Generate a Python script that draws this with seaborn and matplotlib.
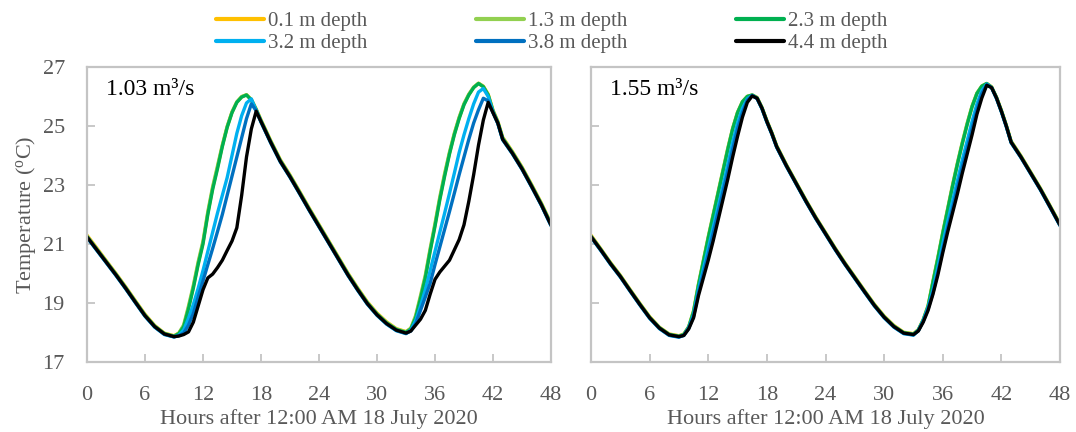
import numpy as np
import pandas as pd
import matplotlib
matplotlib.use("Agg")
import matplotlib.pyplot as plt
from matplotlib.lines import Line2D
import seaborn as sns

# ---- data -------------------------------------------------------------
hours = [0, 1, 2, 3, 4, 5, 6, 7, 8,
         9, 9.5, 10, 10.5, 11, 11.5, 12, 12.5, 13, 13.5, 14, 14.5, 15, 15.5,
         16, 16.5, 17, 17.5, 18, 18.5, 19,
         20, 21, 22, 23, 24, 25, 26, 27, 28, 29, 30, 31, 32,
         33, 33.5, 34, 34.5, 35, 35.5, 36, 36.5, 37, 37.5, 38, 38.5, 39, 39.5,
         40, 40.5, 41, 41.5, 42, 42.5, 43,
         44, 45, 46, 47, 48]

depths = ["0.1 m depth", "1.3 m depth", "2.3 m depth",
          "3.2 m depth", "3.8 m depth", "4.4 m depth"]
colors = ["#FFC000", "#92D050", "#00B050", "#00B0F0", "#0070C0", "#000000"]

flows = ["1.03 m\u00b3/s", "1.55 m\u00b3/s"]

# discharge 1.03 m3/s
q103_d01 = [21.30, 20.87, 20.43, 20.00, 19.55, 19.08, 18.62, 18.24, 17.98,
            17.89, 17.98, 18.22, 18.85, 19.55, 20.35, 21.05, 22.05, 22.90, 23.60, 24.33, 24.97,
            25.47, 25.81, 25.99, 26.06, 25.90, 25.58, 25.21, 24.86, 24.51,
            23.86, 23.34, 22.78, 22.21, 21.66, 21.11, 20.56, 20.01, 19.51, 19.04, 18.66, 18.36, 18.13,
            18.03, 18.14, 18.54, 19.20, 19.90, 20.80, 21.65, 22.55, 23.35, 24.08, 24.73, 25.28,
            25.74, 26.07, 26.31, 26.45, 26.35, 26.08, 25.54, 25.16, 24.62,
            24.14, 23.61, 23.01, 22.39, 21.70]
q103_d13 = [21.27, 20.84, 20.41, 19.98, 19.53, 19.06, 18.60, 18.22, 17.97,
            17.88, 17.98, 18.26, 18.90, 19.60, 20.40, 21.10, 22.10, 22.95, 23.65, 24.36, 24.99,
            25.48, 25.82, 26.00, 26.06, 25.89, 25.56, 25.19, 24.84, 24.49,
            23.84, 23.32, 22.76, 22.19, 21.64, 21.09, 20.54, 19.99, 19.49, 19.02, 18.64, 18.34, 18.12,
            18.02, 18.15, 18.58, 19.25, 19.95, 20.85, 21.70, 22.60, 23.40, 24.12, 24.76, 25.30,
            25.76, 26.08, 26.32, 26.45, 26.34, 26.06, 25.52, 25.14, 24.60,
            24.12, 23.59, 22.99, 22.37, 21.68]
q103_d23 = [21.25, 20.82, 20.39, 19.96, 19.51, 19.04, 18.58, 18.21, 17.96,
            17.87, 17.96, 18.20, 18.80, 19.50, 20.30, 21.00, 22.00, 22.85, 23.55, 24.30, 24.95,
            25.45, 25.80, 25.98, 26.05, 25.88, 25.55, 25.17, 24.82, 24.47,
            23.82, 23.30, 22.74, 22.17, 21.62, 21.07, 20.52, 19.97, 19.47, 19.00, 18.62, 18.32, 18.10,
            18.00, 18.12, 18.50, 19.15, 19.85, 20.75, 21.60, 22.50, 23.30, 24.05, 24.70, 25.25,
            25.72, 26.05, 26.30, 26.44, 26.33, 26.05, 25.50, 25.12, 24.58,
            24.10, 23.57, 22.97, 22.35, 21.66]
q103_d32 = [21.22, 20.79, 20.36, 19.93, 19.48, 19.01, 18.55, 18.18, 17.93,
            17.85, 17.91, 18.08, 18.48, 18.95, 19.50, 20.10, 20.75, 21.40, 22.05, 22.65, 23.25,
            24.00, 24.75, 25.35, 25.78, 25.92, 25.53, 25.13, 24.78, 24.43,
            23.78, 23.26, 22.70, 22.13, 21.58, 21.03, 20.48, 19.93, 19.43, 18.96, 18.58, 18.28, 18.06,
            17.96, 18.08, 18.40, 18.90, 19.45, 20.10, 20.75, 21.40, 22.05, 22.72, 23.40, 24.10,
            24.70, 25.25, 25.75, 26.15, 26.27, 26.00, 25.48, 25.08, 24.53,
            24.06, 23.53, 22.93, 22.31, 21.62]
q103_d38 = [21.23, 20.80, 20.37, 19.94, 19.49, 19.02, 18.56, 18.19, 17.94,
            17.85, 17.89, 17.98, 18.25, 18.65, 19.20, 19.75, 20.30, 20.85, 21.42, 22.00, 22.65,
            23.30, 23.95, 24.60, 25.25, 25.75, 25.52, 25.14, 24.79, 24.44,
            23.79, 23.27, 22.71, 22.14, 21.59, 21.04, 20.49, 19.94, 19.44, 18.97, 18.59, 18.29, 18.07,
            17.97, 18.05, 18.30, 18.75, 19.20, 19.67, 20.30, 20.90, 21.50, 22.10, 22.72, 23.35,
            23.95, 24.55, 25.10, 25.55, 25.94, 25.85, 25.45, 25.09, 24.54,
            24.07, 23.54, 22.94, 22.32, 21.63]
q103_d44 = [21.24, 20.81, 20.38, 19.95, 19.50, 19.03, 18.57, 18.20, 17.95,
            17.86, 17.88, 17.93, 18.02, 18.35, 18.90, 19.45, 19.85, 19.98, 20.20, 20.45, 20.78,
            21.10, 21.55, 22.65, 23.95, 24.90, 25.50, 25.15, 24.80, 24.45,
            23.80, 23.28, 22.72, 22.15, 21.60, 21.05, 20.50, 19.95, 19.45, 18.98, 18.60, 18.30, 18.08,
            17.98, 18.05, 18.25, 18.45, 18.75, 19.30, 19.80, 20.05, 20.25, 20.45, 20.80, 21.15,
            21.65, 22.45, 23.35, 24.35, 25.20, 25.80, 25.45, 25.10, 24.55,
            24.08, 23.55, 22.95, 22.33, 21.64]

# discharge 1.55 m3/s
q155_d01 = [21.30, 20.84, 20.37, 19.94, 19.46, 18.99, 18.54, 18.18, 17.95,
            17.89, 17.95, 18.19, 18.72, 19.62, 20.42, 21.22, 21.97, 22.72, 23.47, 24.22, 24.91,
            25.46, 25.82, 26.00, 26.05, 25.97, 25.63, 25.19, 24.79, 24.34,
            23.69, 23.09, 22.49, 21.92, 21.39, 20.86, 20.36, 19.89, 19.42, 18.96, 18.56, 18.24, 18.01,
            17.96, 18.10, 18.43, 18.90, 19.72, 20.52, 21.37, 22.17, 22.97, 23.72, 24.42, 25.07,
            25.66, 26.11, 26.35, 26.44, 26.33, 25.98, 25.54, 25.04, 24.49,
            23.99, 23.44, 22.89, 22.29, 21.68]
q155_d13 = [21.27, 20.82, 20.35, 19.92, 19.44, 18.97, 18.52, 18.17, 17.94,
            17.88, 17.94, 18.20, 18.75, 19.65, 20.45, 21.25, 22.00, 22.75, 23.50, 24.25, 24.93,
            25.47, 25.83, 26.01, 26.05, 25.96, 25.62, 25.17, 24.77, 24.32,
            23.67, 23.07, 22.47, 21.90, 21.37, 20.84, 20.34, 19.87, 19.40, 18.94, 18.54, 18.22, 18.00,
            17.95, 18.09, 18.44, 18.92, 19.75, 20.55, 21.40, 22.20, 23.00, 23.75, 24.45, 25.10,
            25.68, 26.12, 26.36, 26.44, 26.32, 25.97, 25.52, 25.02, 24.47,
            23.97, 23.42, 22.87, 22.27, 21.66]
q155_d23 = [21.26, 20.81, 20.34, 19.91, 19.43, 18.96, 18.51, 18.16, 17.93,
            17.87, 17.93, 18.18, 18.70, 19.60, 20.40, 21.20, 21.95, 22.70, 23.45, 24.20, 24.90,
            25.45, 25.82, 26.00, 26.05, 25.95, 25.61, 25.16, 24.76, 24.31,
            23.66, 23.06, 22.46, 21.89, 21.36, 20.83, 20.33, 19.86, 19.39, 18.93, 18.53, 18.21, 17.99,
            17.94, 18.08, 18.42, 18.88, 19.70, 20.50, 21.35, 22.15, 22.95, 23.70, 24.40, 25.05,
            25.65, 26.10, 26.35, 26.44, 26.31, 25.96, 25.51, 25.01, 24.46,
            23.96, 23.41, 22.86, 22.26, 21.65]
q155_d32 = [21.23, 20.78, 20.31, 19.88, 19.40, 18.93, 18.48, 18.13, 17.90,
            17.84, 17.91, 18.16, 18.60, 19.45, 20.15, 20.85, 21.55, 22.25, 22.95, 23.70, 24.45,
            25.10, 25.60, 25.92, 26.04, 25.93, 25.58, 25.13, 24.73, 24.28,
            23.63, 23.03, 22.43, 21.86, 21.33, 20.80, 20.30, 19.83, 19.36, 18.90, 18.50, 18.18, 17.96,
            17.91, 18.07, 18.40, 18.85, 19.45, 20.20, 21.00, 21.75, 22.45, 23.15, 23.85, 24.50,
            25.15, 25.75, 26.20, 26.42, 26.30, 25.93, 25.48, 24.98, 24.43,
            23.93, 23.38, 22.83, 22.23, 21.62]
q155_d38 = [21.24, 20.79, 20.32, 19.89, 19.41, 18.94, 18.49, 18.14, 17.91,
            17.85, 17.90, 18.14, 18.55, 19.35, 20.00, 20.65, 21.35, 22.05, 22.75, 23.45, 24.20,
            24.90, 25.45, 25.88, 26.03, 25.93, 25.59, 25.14, 24.74, 24.29,
            23.64, 23.04, 22.44, 21.87, 21.34, 20.81, 20.31, 19.84, 19.37, 18.91, 18.51, 18.19, 17.97,
            17.92, 18.06, 18.38, 18.80, 19.35, 20.05, 20.80, 21.55, 22.20, 22.90, 23.60, 24.25,
            24.90, 25.55, 26.10, 26.40, 26.30, 25.94, 25.49, 24.99, 24.44,
            23.94, 23.39, 22.84, 22.24, 21.63]
q155_d44 = [21.25, 20.80, 20.33, 19.90, 19.42, 18.95, 18.50, 18.15, 17.92,
            17.86, 17.90, 18.12, 18.50, 19.25, 19.85, 20.45, 21.10, 21.80, 22.50, 23.20, 23.95,
            24.65, 25.30, 25.80, 26.02, 25.94, 25.60, 25.15, 24.75, 24.30,
            23.65, 23.05, 22.45, 21.88, 21.35, 20.82, 20.32, 19.85, 19.38, 18.92, 18.52, 18.20, 17.98,
            17.93, 18.05, 18.35, 18.75, 19.30, 19.95, 20.70, 21.40, 22.05, 22.70, 23.40, 24.05,
            24.70, 25.40, 25.95, 26.38, 26.30, 25.95, 25.50, 25.00, 24.45,
            23.95, 23.40, 22.85, 22.25, 21.64]

x_ticks = [0, 6, 12, 18, 24, 30, 36, 42, 48]
y_ticks = [17, 19, 21, 23, 25, 27]

panels = [
    (flows[0], [q103_d01, q103_d13, q103_d23, q103_d32, q103_d38, q103_d44]),
    (flows[1], [q155_d01, q155_d13, q155_d23, q155_d32, q155_d38, q155_d44]),
]

# ---- style ------------------------------------------------------------
sns.set_theme(style="white")
plt.rcParams["font.family"] = ["Liberation Serif", "DejaVu Serif"]
plt.rcParams["mathtext.fontset"] = "custom"
plt.rcParams["mathtext.rm"] = "Liberation Serif"

frame_col = "#c4c4c4"
text_col = "#595959"
palette = dict(zip(depths, colors))

fig = plt.figure(figsize=(10.76, 4.32), dpi=100)
ax_pos = [(87 / 1076, 70 / 432, 464 / 1076, 295 / 432),
          (591 / 1076, 70 / 432, 469 / 1076, 295 / 432)]

for i, ((flow, series), pos) in enumerate(zip(panels, ax_pos)):
    ax = fig.add_axes(pos)
    frames = [pd.DataFrame({"hour": hours, "temp": vals, "depth": d})
              for d, vals in zip(depths, series)]
    df = pd.concat(frames, ignore_index=True)
    sns.lineplot(data=df, x="hour", y="temp", hue="depth", hue_order=depths,
                 palette=palette, linewidth=2.4, estimator=None, sort=False,
                 legend=False, ax=ax)
    ax.set_xlim(0, 48)
    ax.set_ylim(17, 27)
    ax.set_xticks(x_ticks)
    ax.set_yticks(y_ticks)
    for sp in ax.spines.values():
        sp.set_color(frame_col)
        sp.set_linewidth(1.6)
    ax.tick_params(axis="both", direction="in", length=6, width=1.3,
                   color=frame_col, labelcolor=text_col, labelsize=16)
    ax.tick_params(axis="x", pad=17)
    ax.tick_params(axis="y", pad=16)
    ax.tick_params(left=True, bottom=True)
    ax.set_xlabel("Hours after 12:00 AM 18 July 2020", fontsize=16,
                  color=text_col, labelpad=3)
    if i == 0:
        ax.set_ylabel("Temperature ($\\mathregular{^o}$C)", fontsize=16,
                      color=text_col, labelpad=3)
    else:
        ax.set_ylabel("")
        ax.set_yticklabels(["" for _ in y_ticks])
    ax.text(0.041, 0.925, flow, transform=ax.transAxes, fontsize=17,
            color="black", ha="left", va="center")

# legend: three columns, two rows
handles = [Line2D([0], [0], color=c, lw=3) for c in colors]
order = [0, 3, 1, 4, 2, 5]
fig.legend([handles[k] for k in order], [depths[k] for k in order],
           loc="center", bbox_to_anchor=(0.513, 0.925), ncol=3, frameon=False,
           fontsize=15, labelcolor=text_col, handlelength=2.3,
           handletextpad=0.2, columnspacing=5.2, labelspacing=0.12,
           borderpad=0)

fig.savefig("out.png", dpi=100)
